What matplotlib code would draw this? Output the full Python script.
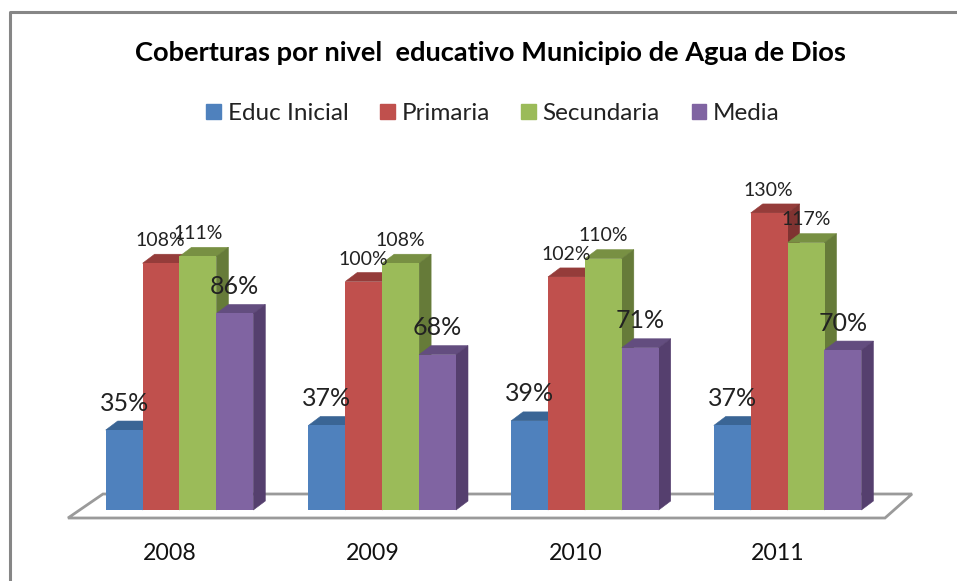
import matplotlib
matplotlib.use("Agg")
import matplotlib.pyplot as plt
from matplotlib.lines import Line2D
from matplotlib.patches import Polygon, Rectangle

years = ["2008", "2009", "2010", "2011"]
series_names = ["Educ Inicial", "Primaria", "Secundaria", "Media"]
educ_inicial = [35, 37, 39, 37]
primaria = [108, 100, 102, 130]
secundaria = [111, 108, 110, 117]
media = [86, 68, 71, 70]

front_colors = ["#4F81BD", "#C0504D", "#9BBB59", "#8064A2"]
top_colors = ["#3A6595", "#953C3A", "#789043", "#634D7F"]
side_colors = ["#335781", "#7F3331", "#667B39", "#553F6E"]

W, H = 957, 581
PX_X = 202.7  # pixels per group
PX_Y = 2.285  # pixels per percent
X0, Y0 = 179.5, 510  # pixel of first group centre / baseline

plt.rcParams["font.family"] = ["Lato", "DejaVu Sans"]

fig = plt.figure(figsize=(W / 100, H / 100), dpi=100)
ax = fig.add_axes([0, 0, 1, 1])
ax.set_xlim(-X0 / PX_X, (W - X0) / PX_X)
ax.set_ylim((Y0 - H) / PX_Y, Y0 / PX_Y)
ax.axis("off")

bar_w = 36.9 / PX_X
dx = 12 / PX_X
dy = 9 / PX_Y

# chart frame: only the top and left edges are in the crop
fig.add_artist(Line2D([10 / W, 10 / W, 1], [0, 1 - 12 / H, 1 - 12 / H], transform=fig.transFigure,
                      color="#868686", linewidth=2.2))

# floor
floor = [(68, 518), (885, 518), (912, 494), (103, 494)]
ax.add_patch(Polygon([((x - X0) / PX_X, (Y0 - y) / PX_Y) for x, y in floor], closed=True,
                     facecolor="white", edgecolor="#9A9A9A", linewidth=2, zorder=1))

all_series = [educ_inicial, primaria, secundaria, media]
for g in range(len(years)):
    for s, values in enumerate(all_series):
        v = values[g]
        x = g + (s - 2) * bar_w
        z = 2 + s
        ax.bar(x, v, width=bar_w, align="edge", color=front_colors[s], zorder=z + 0.2)
        ax.add_patch(Polygon([(x, v), (x + bar_w, v), (x + bar_w + dx, v + dy), (x + dx, v + dy)],
                             closed=True, facecolor=top_colors[s], edgecolor=top_colors[s],
                             linewidth=0.4, zorder=z))
        ax.add_patch(Polygon([(x + bar_w, 0), (x + bar_w + dx, dy), (x + bar_w + dx, v + dy), (x + bar_w, v)],
                             closed=True, facecolor=side_colors[s], edgecolor=side_colors[s],
                             linewidth=0.4, zorder=z))

# data labels: big for Educ Inicial and Media, small for the two others
label_sizes = [18, 14, 14, 18]
label_offsets = [(0, 15.5), (-0.5, 14), (0, 14.5), (0, 15.5)]
for s, values in enumerate(all_series):
    for g, v in enumerate(values):
        x = g + (s - 2 + 0.5) * bar_w + label_offsets[s][0] / PX_X
        y = v + label_offsets[s][1] / PX_Y
        ax.text(x, y, f"{v}%", ha="center", va="bottom", fontsize=label_sizes[s], color="#222222", zorder=20)

for g, yr in enumerate(years):
    ax.text(g - 9.5 / PX_X, (Y0 - 553) / PX_Y, yr, ha="center", va="center", fontsize=16.7, color="#111111")

fig.text(490 / W, 1 - 53 / H, "Coberturas por nivel  educativo Municipio de Agua de Dios",
         ha="center", va="center", fontsize=19.6, fontweight="bold", color="black")

# legend
handles = [Rectangle((0, 0), 1, 1, color=c) for c in front_colors]
fig.legend(handles, series_names, loc="center", bbox_to_anchor=(493 / W, 1 - 113.5 / H), ncol=4, frameon=False,
           fontsize=17.5, handlelength=0.6, handleheight=0.6, handletextpad=0.27, columnspacing=1.31,
           labelcolor="#222222")

fig.savefig("out.png", dpi=100)
plt.close(fig)
